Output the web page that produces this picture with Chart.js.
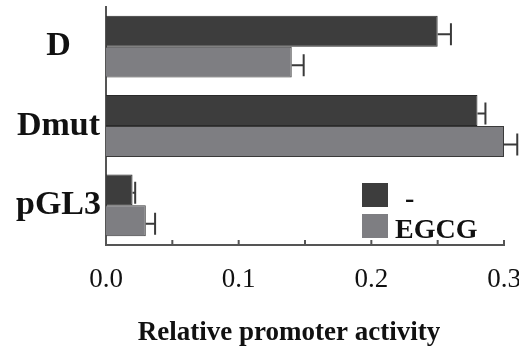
<!DOCTYPE html>
<html>
<head>
<meta charset="utf-8">
<script src="https://cdn.jsdelivr.net/npm/chart.js@4/dist/chart.umd.min.js"></script>
<style>
  html, body { margin: 0; padding: 0; background: #fff; }
  canvas { display: block; }
</style>
</head>
<body>
<canvas id="chart" width="519" height="353"></canvas>
<script>
// Promoter activity per construct, without (-) and with EGCG treatment
const categories = ['D', 'Dmut', 'pGL3'];
const seriesNames = ['-', 'EGCG'];
const controlValues = [0.250, 0.280, 0.020];
const controlErrors = [0.010, 0.006, 0.002];
const egcgValues = [0.140, 0.300, 0.030];
const egcgErrors = [0.009, 0.010, 0.007];
const tickValues = [0, 0.05, 0.1, 0.15, 0.2, 0.25, 0.3];
const tickLabels = ['0.0', '', '0.1', '', '0.2', '', '0.3'];
const axisTitle = 'Relative promoter activity';

const SERIF = '"Liberation Serif", "Times New Roman", Times, serif';
const AXIS_COLOR = '#555555';
const TEXT_COLOR = '#111111';

// One-sided error bars drawn past the end of each bar
const errorBars = {
  id: 'errorBars',
  afterDatasetsDraw(chart) {
    const ctx = chart.ctx;
    const xs = chart.scales.x;
    ctx.save();
    ctx.strokeStyle = '#3a3a3a';
    ctx.lineWidth = 2;
    chart.data.datasets.forEach((ds, di) => {
      const meta = chart.getDatasetMeta(di);
      meta.data.forEach((bar, i) => {
        const x0 = bar.x;
        const x1 = xs.getPixelForValue(ds.data[i] + ds.errors[i]);
        const y = bar.y + 3;
        ctx.beginPath();
        ctx.moveTo(x0, y);
        ctx.lineTo(x1, y);
        ctx.moveTo(x1, y - 11);
        ctx.lineTo(x1, y + 11);
        ctx.stroke();
      });
    });
    ctx.restore();
  }
};

// Short inward tick marks on the value axis, plus the axis title
const valueAxisExtras = {
  id: 'valueAxisExtras',
  afterDraw(chart) {
    const ctx = chart.ctx;
    const xs = chart.scales.x;
    const area = chart.chartArea;
    ctx.save();
    ctx.strokeStyle = AXIS_COLOR;
    ctx.lineWidth = 2;
    xs.ticks.forEach(t => {
      if (t.value === 0) return;
      const px = xs.getPixelForValue(t.value);
      ctx.beginPath();
      ctx.moveTo(px, area.bottom);
      ctx.lineTo(px, area.bottom - 5);
      ctx.stroke();
    });
    ctx.font = 'bold 27px ' + SERIF;
    ctx.fillStyle = TEXT_COLOR;
    ctx.textAlign = 'center';
    ctx.textBaseline = 'alphabetic';
    ctx.fillText(axisTitle, (area.left + area.right) / 2 - 16, area.bottom + 95);
    ctx.restore();
  }
};

// Legend block inside the plot, lower right
const insetLegend = {
  id: 'insetLegend',
  afterDraw(chart) {
    const ctx = chart.ctx;
    const area = chart.chartArea;
    const boxLeft = area.right - 142;
    const boxW = 26, boxH = 24;
    const rowTops = [area.bottom - 62, area.bottom - 31];
    const textIndent = [43, 33];
    ctx.save();
    ctx.font = 'bold 28px ' + SERIF;
    ctx.textBaseline = 'alphabetic';
    ctx.textAlign = 'left';
    chart.data.datasets.forEach((ds, i) => {
      const top = rowTops[i];
      ctx.fillStyle = ds.backgroundColor;
      ctx.fillRect(boxLeft, top, boxW, boxH);
      ctx.fillStyle = TEXT_COLOR;
      ctx.fillText(ds.label, boxLeft + textIndent[i], top + boxH);
    });
    ctx.restore();
  }
};

new Chart(document.getElementById('chart'), {
  type: 'bar',
  data: {
    labels: categories,
    datasets: [
      {
        label: seriesNames[0],
        data: controlValues,
        errors: controlErrors,
        backgroundColor: '#3d3d3d',
        borderColor: '#2a2a2a',
        borderWidth: 1,
        categoryPercentage: 0.78,
        barPercentage: 1.0
      },
      {
        label: seriesNames[1],
        data: egcgValues,
        errors: egcgErrors,
        backgroundColor: '#7e7e82',
        borderColor: '#3a3a3a',
        borderWidth: 1,
        categoryPercentage: 0.78,
        barPercentage: 1.0
      }
    ]
  },
  options: {
    indexAxis: 'y',
    responsive: false,
    animation: false,
    devicePixelRatio: 1,
    layout: { padding: { top: 7, right: 15, bottom: 37.6, left: 0 } },
    plugins: {
      legend: { display: false },
      tooltip: { enabled: false }
    },
    scales: {
      x: {
        min: 0,
        max: 0.3,
        afterBuildTicks: s => { s.ticks = tickValues.map(v => ({ value: v })); },
        afterFit: s => { s.paddingLeft = 0; s.paddingRight = 0; },
        ticks: {
          callback: (v, i) => tickLabels[i],
          font: { family: SERIF, size: 27 },
          color: TEXT_COLOR,
          padding: 19,
          maxRotation: 0,
          autoSkip: false
        },
        grid: { display: false, drawTicks: false },
        border: { color: AXIS_COLOR, width: 2 },
        title: { display: false }
      },
      y: {
        afterFit: s => { s.width = 106; s.paddingTop = 0; s.paddingBottom = 0; },
        ticks: {
          font: { family: SERIF, size: 34, weight: 'bold' },
          color: TEXT_COLOR,
          padding: 5,
          crossAlign: 'center'
        },
        grid: { display: false, drawTicks: false },
        border: { color: AXIS_COLOR, width: 2 }
      }
    }
  },
  plugins: [errorBars, valueAxisExtras, insetLegend]
});
</script>
</body>
</html>
